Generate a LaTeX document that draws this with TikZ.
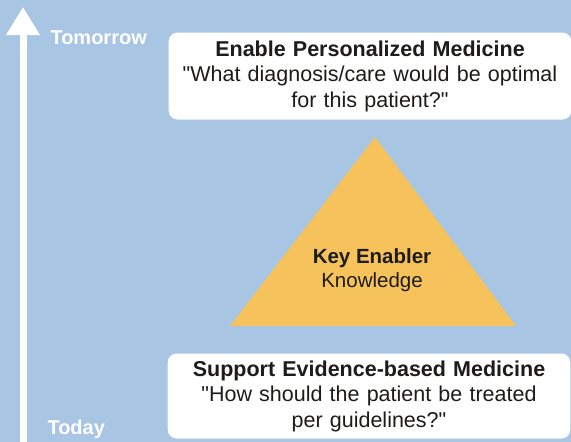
\documentclass[tikz,border=0pt]{standalone}
\usepackage{fontspec}
\setmainfont{Liberation Sans}
\usetikzlibrary{arrows.meta}
\definecolor{bgblue}{RGB}{168,197,228}
\definecolor{keygold}{RGB}{246,194,92}
\definecolor{textdark}{RGB}{30,28,26}
\newcommand{\dq}{\textquotedbl}
\begin{document}
\begin{tikzpicture}[
    x=1pt, y=-1pt,
    box/.style={rectangle, fill=white, rounded corners=9pt, minimum width=400pt, minimum height=87pt, text width=396pt, align=center, text=textdark, font=\fontsize{21.5}{25.5}\selectfont},
    timelabel/.style={text=white, font=\bfseries\fontsize{20}{22}\selectfont, anchor=west},
    timeline/.style={white, line width=7pt, -{Triangle[width=32pt,length=28pt]}}
]
    % Background
    \useasboundingbox (0,0) rectangle (571,442);
    \fill[bgblue] (0,0) rectangle (571,442);

    % Time axis
    \coordinate (today) at (23,450);
    \coordinate (tomorrow) at (23,7);
    \draw[timeline] (today) -- (tomorrow);
    \node[timelabel] (tomlabel) at (47,38) {Tomorrow};
    \node[timelabel] (todaylabel) at (44,429) {Today};

    % Personalized medicine
    \node[box] (personal) at (370,76) {\textbf{Enable Personalized Medicine}\\\dq What diagnosis/care would be optimal\\for this patient?\dq};

    % Evidence-based medicine
    \node[box, minimum height=85pt] (evidence) at (369,396) {\textbf{Support Evidence-based Medicine}\\\dq How should the patient be treated\\per guidelines?\dq};

    % Key enabler
    \coordinate (apex) at (375,137);
    \coordinate (baseleft) at (230,326);
    \coordinate (baseright) at (516,326);
    \fill[keygold] (apex) -- (baseleft) -- (baseright) -- cycle;
    \node[text=textdark, align=center, font=\fontsize{20.5}{24.5}\selectfont] (enabler) at (372,270) {\textbf{Key Enabler}\\Knowledge};

\end{tikzpicture}
\end{document}
